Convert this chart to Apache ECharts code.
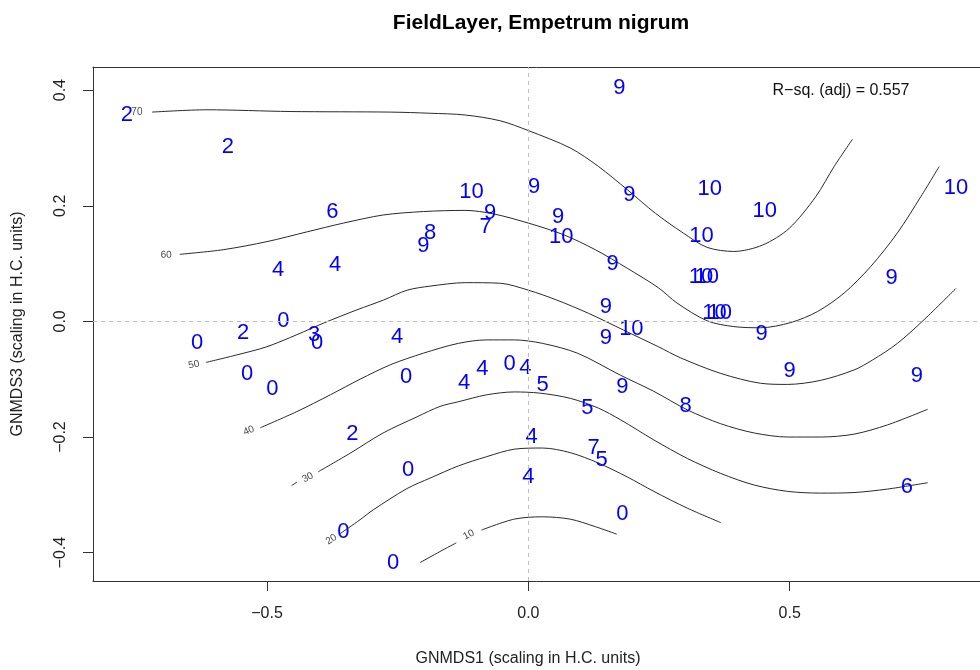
<!DOCTYPE html>
<html>
<head>
<meta charset="utf-8">
<title>FieldLayer, Empetrum nigrum</title>
<script src="https://cdn.jsdelivr.net/npm/echarts@6/dist/echarts.min.js"></script>
<style>
  html, body { margin: 0; padding: 0; background: #fff; }
  #chart { width: 980px; height: 670px; }
</style>
</head>
<body>
<div id="chart"></div>
<script>
// Site scores on the two ordination axes, labelled with the recorded value
const plotX = [-0.768, -0.575, 0.174, -0.375, -0.109, 0.011, 0.193, 0.347, 0.452, 0.818,
  -0.188, -0.201, -0.073, -0.082, 0.057, 0.063, 0.331, -0.479, -0.370, 0.161,
  0.330, 0.341, 0.695, 0.148, 0.356, 0.366, -0.469, -0.546, -0.634, -0.410,
  -0.404, -0.251, 0.148, 0.197, 0.446, -0.538, -0.490, -0.234, -0.123, -0.088,
  -0.036, -0.006, 0.027, 0.180, 0.500, 0.743, 0.113, 0.301, -0.337, 0.006,
  0.125, 0.140, -0.230, 0.000, 0.724, 0.180, -0.354, -0.259];
const plotY = [0.357, 0.302, 0.404, 0.189, 0.224, 0.233, 0.219, 0.229, 0.191, 0.231,
  0.153, 0.131, 0.188, 0.163, 0.181, 0.146, 0.148, 0.089, 0.098, 0.099,
  0.077, 0.077, 0.075, 0.025, 0.015, 0.015, 0.001, -0.020, -0.037, -0.023,
  -0.037, -0.027, -0.029, -0.013, -0.022, -0.091, -0.117, -0.096, -0.106, -0.082,
  -0.074, -0.080, -0.110, -0.113, -0.086, -0.094, -0.150, -0.146, -0.195, -0.200,
  -0.219, -0.240, -0.257, -0.269, -0.286, -0.333, -0.364, -0.418];
const plotValue = [2, 2, 9, 6, 10, 9, 9, 10, 10, 10,
  8, 9, 9, 7, 9, 10, 10, 4, 4, 9,
  10, 10, 9, 9, 10, 10, 0, 2, 0, 3,
  0, 4, 9, 10, 9, 0, 0, 0, 4, 4,
  0, 4, 5, 9, 9, 9, 5, 8, 2, 4,
  7, 5, 0, 4, 6, 0, 0, 0];

// Fitted surface contours (level -> polyline pieces)
const contour70 = [[-0.720,0.362],[-0.615,0.366],[-0.456,0.363],[-0.264,0.362],[-0.188,0.360],
  [-0.121,0.357],[-0.054,0.347],[0.000,0.330],[0.080,0.300],[0.134,0.268],[0.189,0.228],
  [0.243,0.187],[0.296,0.153],[0.342,0.128],[0.393,0.121],[0.448,0.132],[0.499,0.161],
  [0.550,0.216],[0.585,0.268],[0.620,0.315]];
const contour60 = [[-0.667,0.116],[-0.584,0.124],[-0.500,0.138],[-0.423,0.155],[-0.354,0.170],
  [-0.278,0.184],[-0.201,0.190],[-0.121,0.192],[-0.067,0.186],[0.000,0.170],[0.067,0.150],
  [0.128,0.124],[0.189,0.092],[0.249,0.058],[0.284,0.032],[0.342,0.001],[0.393,-0.009],
  [0.444,-0.011],[0.502,-0.002],[0.553,0.017],[0.604,0.049],[0.655,0.095],[0.706,0.153],
  [0.751,0.216],[0.786,0.268]];
const contour50 = [[-0.617,-0.071],[-0.558,-0.058],[-0.501,-0.044],[-0.443,-0.023],[-0.392,-0.003],
  [-0.328,0.020],[-0.277,0.037],[-0.232,0.054],[-0.188,0.061],[-0.121,0.067],[-0.054,0.066],
  [0.000,0.054],[0.054,0.037],[0.115,0.014],[0.182,-0.015],[0.249,-0.044],[0.291,-0.063],
  [0.368,-0.090],[0.444,-0.107],[0.496,-0.109],[0.559,-0.102],[0.623,-0.084],[0.658,-0.067],
  [0.706,-0.038],[0.757,0.003],[0.818,0.057]];
const contour40 = [[-0.513,-0.184],[-0.443,-0.156],[-0.379,-0.127],[-0.322,-0.100],[-0.264,-0.075],
  [-0.201,-0.055],[-0.134,-0.038],[-0.080,-0.032],[-0.027,-0.032],[0.027,-0.038],[0.094,-0.055],
  [0.176,-0.093],[0.240,-0.121],[0.304,-0.153],[0.368,-0.177],[0.432,-0.193],[0.496,-0.200],
  [0.559,-0.200],[0.623,-0.195],[0.687,-0.179],[0.764,-0.152]];
const contour30a = [[-0.453,-0.284],[-0.443,-0.278]];
const contour30 = [[-0.402,-0.260],[-0.341,-0.228],[-0.278,-0.193],[-0.213,-0.165],[-0.169,-0.147],
  [-0.134,-0.139],[-0.080,-0.127],[-0.027,-0.122],[0.021,-0.124],[0.080,-0.133],[0.134,-0.150],
  [0.176,-0.170],[0.240,-0.205],[0.304,-0.237],[0.368,-0.263],[0.432,-0.283],[0.496,-0.294],
  [0.559,-0.297],[0.623,-0.296],[0.687,-0.290],[0.764,-0.279]];
const contour20 = [[-0.360,-0.367],[-0.322,-0.343],[-0.297,-0.326],[-0.232,-0.289],[-0.188,-0.271],
  [-0.134,-0.250],[-0.080,-0.234],[-0.027,-0.221],[0.027,-0.219],[0.080,-0.227],[0.134,-0.245],
  [0.189,-0.269],[0.240,-0.294],[0.304,-0.323],[0.368,-0.348]];
const contour10a = [[-0.207,-0.417],[-0.169,-0.398],[-0.138,-0.383]];
const contour10 = [[-0.090,-0.361],[-0.027,-0.342],[0.027,-0.338],[0.080,-0.342],[0.128,-0.355],
  [0.169,-0.368]];

// Contour level labels and where they sit along each line
const contourLevels = [70, 60, 50, 40, 30, 20, 10];
const contourLabelX = [-0.749, -0.693, -0.640, -0.535, -0.422, -0.377, -0.114];
const contourLabelY = [0.361, 0.115, -0.075, -0.189, -0.270, -0.377, -0.369];
const contourLabelAngle = [0, 2, 12, 22, 28, 33, 27];

// Axis ticks
const xTicks = [-0.5, 0, 0.5];
const xTickLabels = ['\u22120.5', '0.0', '0.5'];
const yTicks = [-0.4, -0.2, 0, 0.2, 0.4];
const yTickLabels = ['\u22120.4', '\u22120.2', '0.0', '0.2', '0.4'];

const FONT = '"Liberation Sans", Arial, Helvetica, sans-serif';
const FRAME = { show: true, onZero: false, lineStyle: { color: '#333', width: 1 } };

function tickText(ticks, labels) {
  return function (v) {
    for (let i = 0; i < ticks.length; i++) {
      if (Math.abs(ticks[i] - v) < 1e-9) return labels[i];
    }
    return '';
  };
}

const chart = echarts.init(document.getElementById('chart'), null, { renderer: 'canvas' });

const contourStyle = { color: '#2a2a2a', width: 1 };
function contourSeries(data) {
  return {
    type: 'line',
    data: data,
    smooth: 0.3,
    symbol: 'none',
    silent: true,
    lineStyle: contourStyle,
    z: 2
  };
}

const option = {
  animation: false,
  backgroundColor: '#ffffff',
  // the plotting box is open on the right: it runs on past the canvas edge
  grid: { left: 93, top: 67, right: 0, bottom: 89, show: false },
  xAxis: [
    {
      type: 'value',
      position: 'bottom',
      min: -0.833, max: 0.864,
      axisLine: FRAME,
      splitLine: { show: false },
      axisTick: { show: true, customValues: xTicks, length: 10, lineStyle: { color: '#333' } },
      axisLabel: {
        customValues: xTicks, formatter: tickText(xTicks, xTickLabels),
        margin: 25, fontSize: 16, fontFamily: FONT, color: '#222'
      }
    },
    {
      type: 'value',
      position: 'top',
      min: -0.833, max: 0.864,
      axisLine: FRAME,
      splitLine: { show: false },
      axisTick: { show: false },
      axisLabel: { show: false }
    }
  ],
  yAxis: {
    type: 'value',
    position: 'left',
    min: -0.449, max: 0.44,
    axisLine: FRAME,
    splitLine: { show: false },
    axisTick: { show: true, customValues: yTicks, length: 10, lineStyle: { color: '#333' } },
    axisLabel: {
      customValues: yTicks, formatter: tickText(yTicks, yTickLabels),
      rotate: 90, margin: 24, fontSize: 16, fontFamily: FONT, color: '#222'
    }
  },
  graphic: [
    {
      type: 'text', silent: true,
      style: {
        text: 'FieldLayer, Empetrum nigrum', x: 541, y: 23,
        textAlign: 'center', textVerticalAlign: 'middle',
        font: 'bold 21px ' + FONT, fill: '#000'
      }
    },
    {
      type: 'text', silent: true,
      style: {
        text: 'GNMDS1 (scaling in H.C. units)', x: 528, y: 659,
        textAlign: 'center', textVerticalAlign: 'middle',
        font: '16px ' + FONT, fill: '#222'
      }
    },
    {
      type: 'text', silent: true, x: 18, y: 324, rotation: Math.PI / 2,
      style: {
        text: 'GNMDS3 (scaling in H.C. units)', x: 0, y: 0,
        textAlign: 'center', textVerticalAlign: 'middle',
        font: '16px ' + FONT, fill: '#222'
      }
    },
    {
      type: 'text', silent: true,
      style: {
        text: 'R\u2212sq. (adj) = 0.557', x: 841, y: 91,
        textAlign: 'center', textVerticalAlign: 'middle',
        font: '16px ' + FONT, fill: '#111'
      }
    }
  ],
  series: [
    contourSeries(contour70),
    contourSeries(contour60),
    contourSeries(contour50),
    contourSeries(contour40),
    contourSeries(contour30a),
    contourSeries(contour30),
    contourSeries(contour20),
    contourSeries(contour10a),
    contourSeries(contour10),
    {
      // contour level labels
      type: 'scatter',
      silent: true,
      symbolSize: 1,
      itemStyle: { color: 'transparent', opacity: 1 },
      data: contourLevels.map((lv, i) => ({
        value: [contourLabelX[i], contourLabelY[i]],
        label: { rotate: contourLabelAngle[i] }
      })),
      label: {
        show: true, position: 'inside',
        formatter: p => String(contourLevels[p.dataIndex]),
        fontSize: 10, fontFamily: FONT, color: '#4a4a4a',
        textBorderWidth: 0
      },
      z: 3
    },
    {
      // site values
      type: 'scatter',
      silent: true,
      symbolSize: 1,
      itemStyle: { color: 'transparent', opacity: 1 },
      data: plotX.map((x, i) => [x, plotY[i], plotValue[i]]),
      label: {
        show: true, position: 'inside',
        formatter: p => String(p.value[2]),
        fontSize: 22, fontFamily: FONT, color: '#0000ff',
        textBorderWidth: 0
      },
      markLine: {
        silent: true,
        symbol: 'none',
        label: { show: false },
        lineStyle: { type: [4, 4], color: '#bdbdbd', width: 1 },
        data: [{ xAxis: 0 }, { yAxis: 0 }]
      },
      z: 4
    }
  ]
};

chart.setOption(option);
</script>
</body>
</html>
